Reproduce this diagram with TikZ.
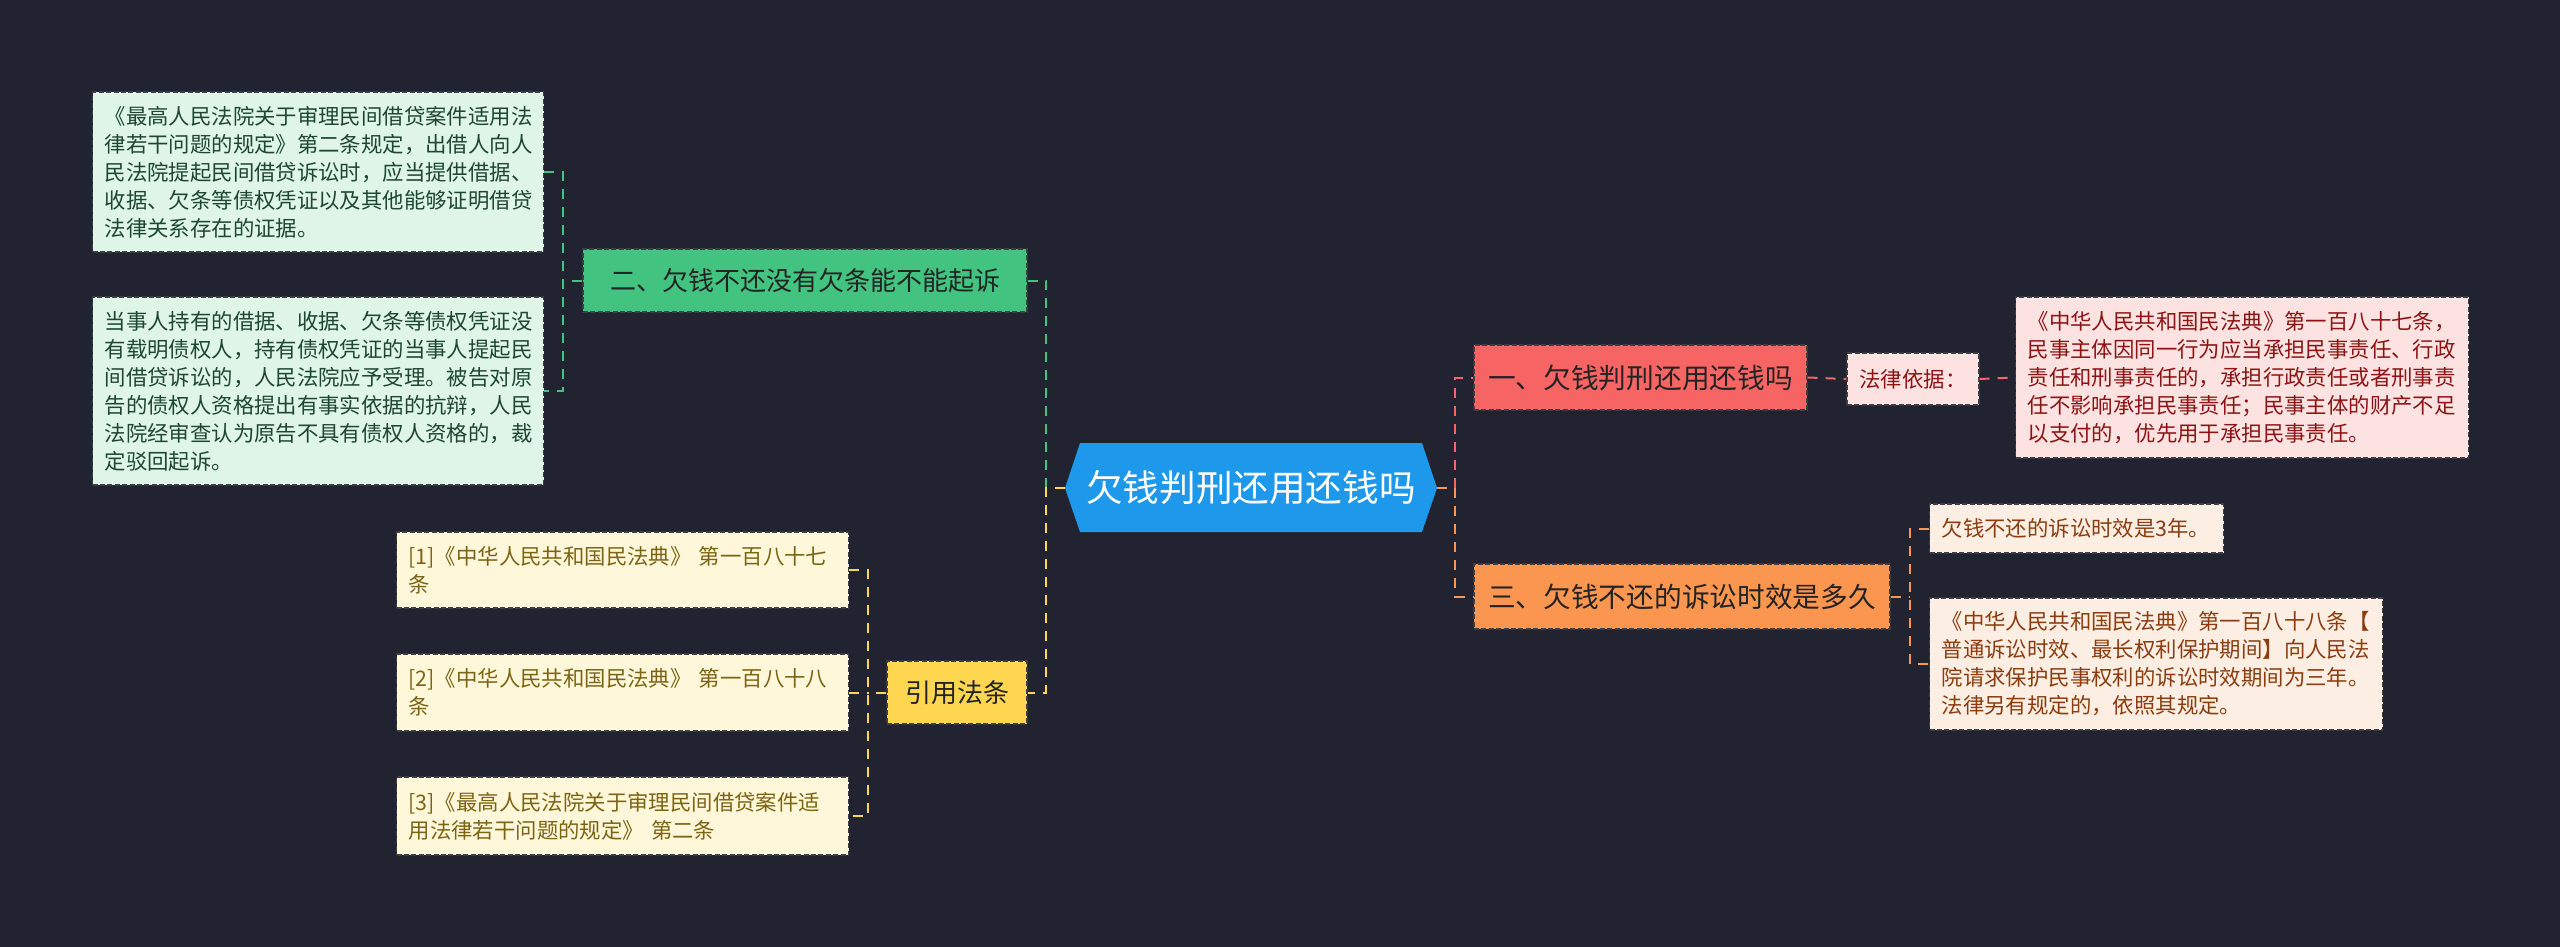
\documentclass[tikz,border=0pt]{standalone}
\usepackage{fontspec}
\setmainfont{Noto Sans CJK SC}
\definecolor{bg}{RGB}{33,36,48}
\definecolor{rootc}{RGB}{30,152,235}
\definecolor{greenc}{RGB}{66,196,128}
\definecolor{redc}{RGB}{247,100,100}
\definecolor{orangec}{RGB}{250,150,80}
\definecolor{yellowc}{RGB}{255,214,80}
\definecolor{gleaff}{RGB}{222,245,232}
\definecolor{gleaft}{RGB}{30,70,50}
\definecolor{rleaff}{RGB}{253,226,226}
\definecolor{rleaft}{RGB}{140,20,20}
\definecolor{oleaff}{RGB}{253,238,228}
\definecolor{oleaft}{RGB}{140,60,15}
\definecolor{yleaff}{RGB}{254,247,218}
\definecolor{yleaft}{RGB}{125,100,20}
\definecolor{bord}{RGB}{60,62,70}
\definecolor{ltext}{RGB}{35,35,35}
\begin{document}
\begin{tikzpicture}[x=0.5pt,y=-0.5pt,
  box/.style={draw=bord, line width=0.6pt, dash pattern=on 2.5pt off 1.2pt, inner sep=0pt},
  lone/.style={box, font=\fontsize{13}{16}\selectfont, text=ltext, minimum height=31.5pt},
  lonebig/.style={lone, font=\fontsize{13.85}{16}\selectfont},
  leaf/.style={box, align=left, font=\fontsize{10.7}{14}\selectfont, inner xsep=6pt, anchor=west},
  conn/.style={line width=1pt, dash pattern=on 5pt off 4pt}
]
\fill[bg] (0,0) rectangle (2560,947);
\useasboundingbox (0,0) rectangle (2560,947);

% root
\fill[rootc] (1065,488) -- (1080,443) -- (1422,443) -- (1437,488) -- (1422,532) -- (1080,532) -- cycle;
\node[font=\fontsize{18.3}{22}\selectfont, text=white, minimum width=186pt, minimum height=44.5pt, inner sep=0pt] (root) at (1251,488) {欠钱判刑还用还钱吗};

% level one
\node[lone, fill=greenc, minimum width=222pt] (g1) at (805,280.5) {二、欠钱不还没有欠条能不能起诉};
\node[lonebig, fill=redc, minimum width=166.5pt, minimum height=32.5pt] (r1) at (1640.5,377.5) {一、欠钱判刑还用还钱吗};
\node[lonebig, fill=orangec, minimum width=208pt, minimum height=32.5pt] (o1) at (1682,596.5) {三、欠钱不还的诉讼时效是多久};
\node[lone, fill=yellowc, minimum width=70pt] (y1) at (957,692.5) {引用法条};

% red branch
\node[box, fill=rleaff, text=rleaft, font=\fontsize{10.7}{14}\selectfont, minimum width=66pt, minimum height=26pt] (law) at (1913,379) {法律依据：};
\node[leaf, fill=rleaff, text=rleaft, text width=214.5pt, minimum height=80.5pt] (rl) at (2015,377.5) {《中华人民共和国民法典》第一百八十七条，\\民事主体因同一行为应当承担民事责任、行政\\责任和刑事责任的，承担行政责任或者刑事责\\任不影响承担民事责任；民事主体的财产不足\\以支付的，优先用于承担民事责任。};

% orange branch
\node[leaf, fill=oleaff, text=oleaft, text width=135pt, minimum height=24.5pt] (ol1) at (1929,528.5) {欠钱不还的诉讼时效是3年。};
\node[leaf, fill=oleaff, text=oleaft, text width=214.5pt, minimum height=66pt] (ol2) at (1929,664) {《中华人民共和国民法典》第一百八十八条【\\普通诉讼时效、最长权利保护期间】向人民法\\院请求保护民事权利的诉讼时效期间为三年。\\法律另有规定的，依照其规定。};

% green branch
\node[leaf, fill=gleaff, text=gleaft, text width=213.5pt, minimum height=80pt] (gl1) at (92,172) {《最高人民法院关于审理民间借贷案件适用法\\律若干问题的规定》第二条规定，出借人向人\\民法院提起民间借贷诉讼时，应当提供借据、\\收据、欠条等债权凭证以及其他能够证明借贷\\法律关系存在的证据。};
\node[leaf, fill=gleaff, text=gleaft, text width=213.5pt, minimum height=94pt] (gl2) at (92,391) {当事人持有的借据、收据、欠条等债权凭证没\\有载明债权人，持有债权凭证的当事人提起民\\间借贷诉讼的，人民法院应予受理。被告对原\\告的债权人资格提出有事实依据的抗辩，人民\\法院经审查认为原告不具有债权人资格的，裁\\定驳回起诉。};

% yellow branch
\node[leaf, fill=yleaff, text=yleaft, text width=214pt, minimum height=38pt] (yl1) at (396,570) {[1]《中华人民共和国民法典》 第一百八十七\\条};
\node[leaf, fill=yleaff, text=yleaft, text width=214pt, minimum height=38.5pt] (yl2) at (396,692.5) {[2]《中华人民共和国民法典》 第一百八十八\\条};
\node[leaf, fill=yleaff, text=yleaft, text width=214pt, minimum height=39pt] (yl3) at (396,816) {[3]《最高人民法院关于审理民间借贷案件适\\用法律若干问题的规定》 第二条};

% junctions
\coordinate (jl) at (1046,488);
\coordinate (jr) at (1455,488);
\coordinate (jg) at (563,280.5);
\coordinate (jy) at (868,692.5);
\coordinate (jo) at (1910,596.5);

% connectors
\draw[conn, greenc] (g1.east) -| (jl);
\draw[conn, yellowc] (root.west) -- (jl) |- (y1.east);
\draw[conn, redc] (jr) |- (r1.west);
\draw[conn, orangec] (root.east) -- (jr) |- (o1.west);

\draw[conn, redc] (r1.east) -- (law.west);
\draw[conn, redc] (law.east) -- (rl.west);

\draw[conn, orangec] (o1.east) -- (jo);
\draw[conn, orangec] (ol1.west) -| (jo) |- (ol2.west);

\draw[conn, greenc] (g1.west) -- (jg);
\draw[conn, greenc] (gl1.east) -| (jg) |- (gl2.east);

\draw[conn, yellowc] (y1.west) -- (jy);
\draw[conn, yellowc] (yl1.east) -| (jy) |- (yl3.east);
\draw[conn, yellowc] (yl2.east) -- (jy);
\end{tikzpicture}
\end{document}
